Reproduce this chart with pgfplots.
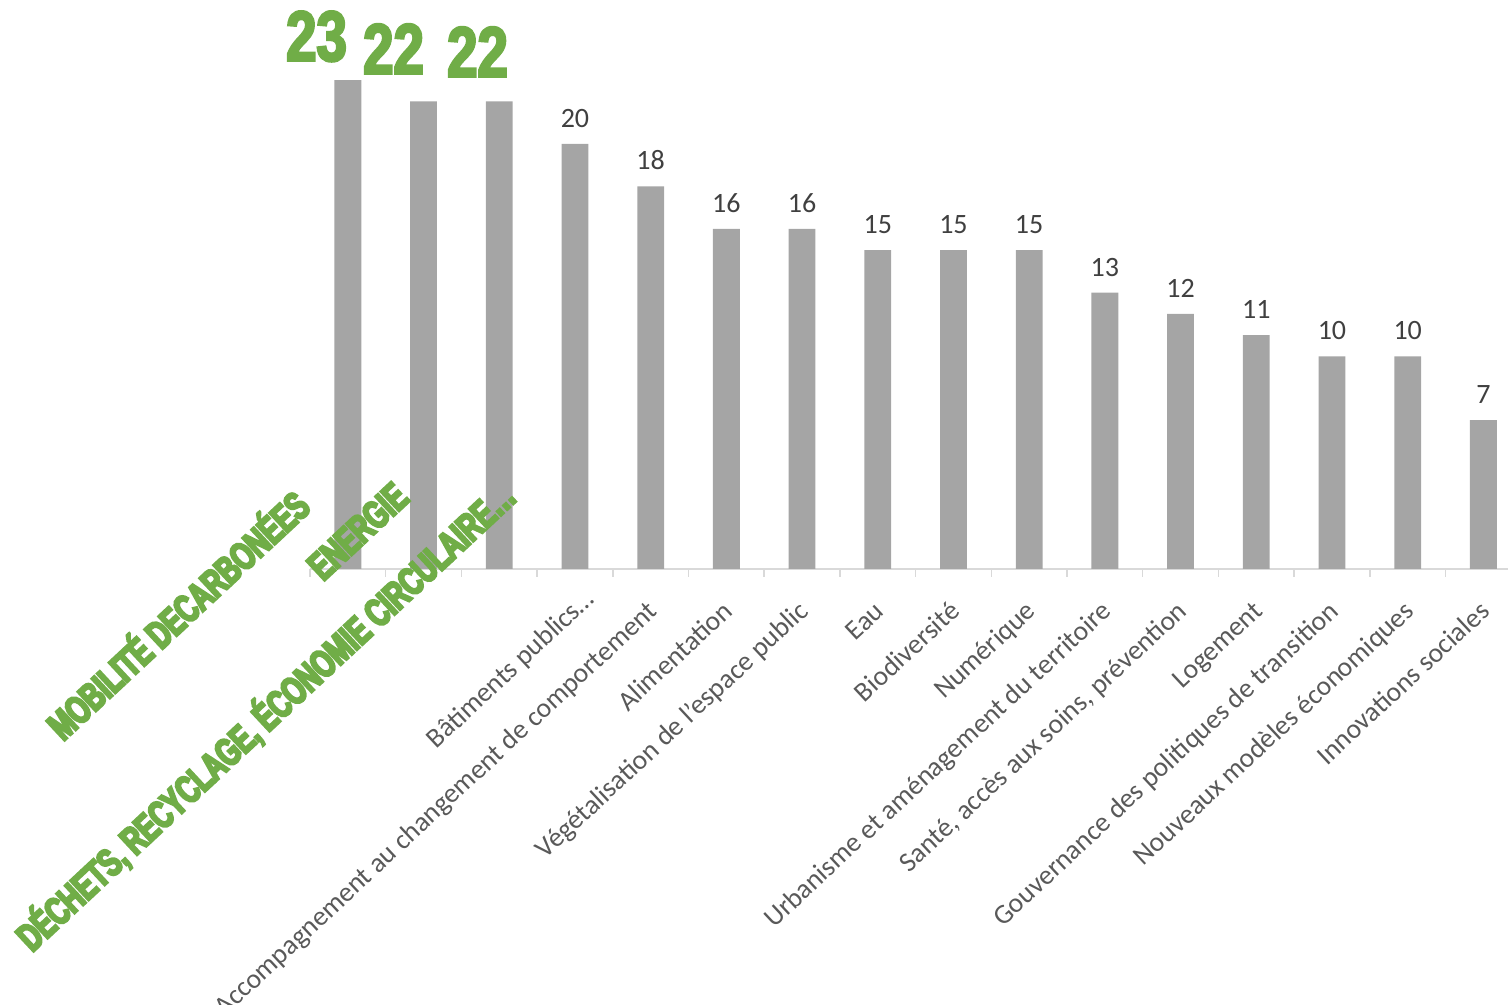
\documentclass[border=0pt]{standalone}
\usepackage{pgfplots}
\pgfplotsset{compat=1.18}
\usepackage{fontspec}
\setmainfont{Carlito}
\newfontfamily\biglab{Liberation Sans}[UprightFont=* Bold, FakeStretch=0.68]
\newfontfamily\bignum{Liberation Sans}[UprightFont=* Bold, FakeStretch=0.77]
% trait plus gras, façon Impact
\newcommand\gras[1]{\special{pdf:code 2 Tr 1.2 w}#1\special{pdf:code 0 Tr}}

\definecolor{vert}{HTML}{70AD47}
\definecolor{barre}{HTML}{A5A5A5}
\definecolor{etiq}{HTML}{595959}
\definecolor{valeur}{HTML}{404040}
\definecolor{axe}{HTML}{D9D9D9}

\begin{document}
\begin{tikzpicture}
\useasboundingbox (0,0) rectangle (754pt,502.5pt);
\begin{axis}[
	at={(155pt,218pt)}, anchor=south west,
	scale only axis, width=598.8pt, height=265.75pt,
	xmin=-0.5, xmax=15.32, ymin=0, ymax=25,
	axis x line*=bottom, axis y line=none,
	x axis line style={draw=axe, line width=0.75pt, -},
	xtick={0,...,15}, major tick length=0pt,
	minor xtick={-0.5,0.5,...,14.5}, minor tick length=4pt,
	tick align=outside, tick style={draw=axe, line width=0.75pt},
	ytick=\empty,
	xticklabels={{},{},{},{Bâtiments publics…\kern-9pt},{Accompagnement au changement de comportement},{Alimentation},{Végétalisation de l’espace public},{Eau},{Biodiversité},{Numérique},{Urbanisme et aménagement du territoire},{Santé, accès aux soins, prévention},{Logement},{Gouvernance des politiques de transition},{Nouveaux modèles économiques},{Innovations sociales}},
	xticklabel style={font=\fontsize{13.8}{16}\selectfont, text=etiq, inner sep=0pt,
		xshift=4pt, yshift=-22pt, rotate=43, anchor=base east},
	/pgf/number format/assume math mode=true,
	clip=false,
]
% les trois premiers thèmes, étiquetés à part en vert
\addplot[ybar, fill=barre, draw=none, bar width=13.4pt, bar shift=0pt]
	coordinates {(0,23) (1,22) (2,22)};
\addplot[ybar, fill=barre, draw=none, bar width=13.4pt, bar shift=0pt,
	nodes near coords,
	every node near coord/.append style={font=\fontsize{14}{17}\selectfont,
		text=valeur, inner sep=0pt, anchor=south, yshift=8pt}]
	coordinates {(3,20) (4,18) (5,16) (6,16) (7,15) (8,15) (9,15) (10,13)
		(11,12) (12,11) (13,10) (14,10) (15,7)};
\end{axis}

% valeurs en grand
\begin{scope}[every node/.style={inner sep=0pt, anchor=south, text=vert,
	font=\bignum\fontsize{35.5}{36}\selectfont}]
\node at (158.25pt,471.5pt) {\gras{23}};
\node at (196.75pt,465.5pt) {\gras{22}};
\node at (238.75pt,464pt) {\gras{22}};
\end{scope}

% libellés en grand
\begin{scope}[every node/.style={inner sep=0pt, anchor=base west, rotate=43, text=vert,
	font=\biglab\fontsize{19.5}{20}\selectfont}]
\node at (31.5pt,131.5pt) {\gras{MOBILITÉ DECARBONÉES}};
\node at (161.5pt,211.5pt) {\gras{ENERGIE}};
\node at (16pt,26pt) {\gras{DÉCHETS, RECYCLAGE, ÉCONOMIE CIRCULAIRE…}};
\end{scope}
\end{tikzpicture}
\end{document}
